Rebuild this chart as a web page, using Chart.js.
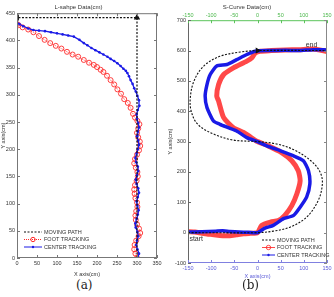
<!DOCTYPE html>
<html lang="en">
<head>
<meta charset="UTF-8">
<title>L-shape and S-curve tracking</title>
<script src="https://cdn.jsdelivr.net/npm/chart.js"></script>
<style>
  body { margin: 0; background: #fff; width: 334px; height: 297px; overflow: hidden; position: relative; }
  canvas { position: absolute; top: 0; }
  #ca { left: 0; }
  #cb { left: 167px; }
  .cap { position: absolute; font-family: "DejaVu Serif", "Liberation Serif", serif; font-size: 12px; color: #222; top: 278px; }
</style>
</head>
<body>
<canvas id="ca" width="167" height="278"></canvas>
<canvas id="cb" width="167" height="280"></canvas>
<div class="cap" style="left:76px">(a)</div>
<div class="cap" style="left:242px">(b)</div>

<script>
// ---- (a) L-shape data, [x, y] in cm ----
const lPath = [[300, 0], [300, 442], [0, 442]];
const lFoot = [
  [300,0],[296,8],[293,16],[294,24],[298,32],[304,40],[308,46],[305,54],[300,62],[297,70],
  [296,78],[298,86],[301,94],[300,102],[296,110],[294,118],[293,126],[295,134],[299,142],[302,150],
  [301,158],[297,166],[293,174],[295,182],[300,190],[305,198],[308,206],[307,214],[303,222],[300,230],
  [303,238],[306,246],[301,252],[295,258],[290,265],[284,276],[277,285],[268,292],[260,302],[251,310],
  [243,319],[234,327],[225,335],[216,342],[209,346],[200,351],[192,355],[180,359],[167,364],[153,370],
  [139,374],[125,379],[111,385],[97,390],[83,395],[69,401],[55,408],[41,415],[28,420],[14,424],
  [4,428],[0,430]
];
const lCenter = [
  [302,0],[305,8],[301,16],[298,24],[300,32],[303,40],[301,48],[297,56],[296,64],[299,72],
  [302,80],[304,88],[301,96],[299,104],[302,112],[305,120],[303,128],[299,136],[297,144],[300,152],
  [303,160],[302,168],[298,176],[296,184],[299,192],[302,200],[305,208],[303,216],[300,224],[302,232],
  [305,240],[303,248],[300,256],[299,264],[302,272],[306,280],[305,290],[301,298],[297,306],[293,312],
  [289,320],[284,327],[280,334],[276,340],[272,344],[266,348],[259,353],[251,358],[243,362],[234,366],
  [226,370],[216,374],[206,378],[196,382],[186,386],[176,391],[167,395],[156,401],[142,407],[128,409],
  [114,411],[100,413],[85,415],[70,417],[55,418],[41,419],[28,422],[16,426],[6,430],[0,433]
];
const lXTicks = [0, 50, 100, 150, 200, 250, 300, 350];
const lYTicks = [0, 50, 100, 150, 200, 250, 300, 350, 400, 450];

// ---- (b) S-curve data, [x, y] in cm ----
const sPath = [
  [-150,0],[0,0],[34,5],[70,18],[106,51],[131,106],[140,161],[135,200],[115,237],[80,272],
  [42,292],[0,300],[-52,305],[-95,325],[-129,357],[-143,400],[-145,445],[-137,500],[-116,549],[-81,581],
  [-37,595],[0,600],[150,600]
];
const sFoot = [
  [-150,3],[-135,2],[-120,-2],[-105,-5],[-90,-8],[-75,-10],[-60,-10],[-45,-7],[-30,-4],[-15,-2],
  [0,0],[9,24],[28,35],[45,40],[59,57],[74,89],[85,128],[92,171],[88,204],[74,237],
  [52,264],[23,286],[0,300],[-15,315],[-30,330],[-52,346],[-73,379],[-84,434],[-88,450],[-84,488],
  [-73,521],[-52,543],[-23,565],[-12,576],[-5,592],[6,598],[30,600],[60,602],[90,603],[120,605],[150,597]
];
const sCenter = [
  [-150,2],[-120,3],[-90,5],[-75,6],[-60,4],[-40,2],[-20,1],[0,0],[16,15],[34,24],
  [56,46],[78,57],[92,84],[106,117],[113,161],[110,204],[99,237],[78,253],[49,270],[20,286],
  [0,300],[-23,313],[-45,335],[-81,357],[-95,368],[-109,412],[-113,450],[-109,488],[-102,521],[-88,549],
  [-66,554],[-45,570],[-23,587],[-5,598],[30,600],[60,601],[90,600],[120,603],[150,602]
];
const sXTicks = [-150, -100, -50, 0, 50, 100, 150];
const sYTicks = [-100, 0, 100, 200, 300, 400, 500, 600, 700];

const FONT = "'Liberation Sans', Arial, sans-serif";
const RED = '#ff2a2a';
const BLUE = '#1a1ae6';
const pts = arr => arr.map(([x, y]) => ({ x, y }));

// box + inward ticks + legend + free texts, all in plot/scale coords
const decor = {
  id: 'decor',
  afterDatasetsDraw(chart, args, o) {
    const { ctx, chartArea: a, scales } = chart;
    const xs = scales.x, ys = scales.y;
    ctx.save();
    ctx.lineWidth = 1;
    const side = (c, x1, y1, x2, y2) => {
      ctx.strokeStyle = c; ctx.beginPath(); ctx.moveTo(x1, y1); ctx.lineTo(x2, y2); ctx.stroke();
    };
    side(o.top, a.left, a.top + 0.5, a.right, a.top + 0.5);
    side(o.bottom, a.left, a.bottom - 0.5, a.right, a.bottom - 0.5);
    side(o.left, a.left + 0.5, a.top, a.left + 0.5, a.bottom);
    side(o.right, a.right - 0.5, a.top, a.right - 0.5, a.bottom);
    o.xTicks.forEach(v => {
      const px = Math.round(xs.getPixelForValue(v)) + 0.5;
      side(o.bottom, px, a.bottom, px, a.bottom - 3);
      side(o.top, px, a.top, px, a.top + 3);
    });
    o.yTicks.forEach(v => {
      const py = Math.round(ys.getPixelForValue(v)) + 0.5;
      side(o.left, a.left, py, a.left + 3, py);
      side(o.right, a.right, py, a.right - 3, py);
    });
    // legend
    ctx.font = '5.5px ' + FONT;
    ctx.textBaseline = 'middle';
    o.legend.rows.forEach((r, i) => {
      const ds = chart.data.datasets[i];
      const y = o.legend.y + i * o.legend.gap;
      const x0 = o.legend.x, x1 = x0 + o.legend.len;
      ctx.lineWidth = i === 0 ? 1.2 : 1;
      ctx.setLineDash(ds.borderDash || []);
      side(ds.borderColor, x0, y, x1, y);
      ctx.setLineDash([]);
      if (i > 0) {
        ctx.beginPath();
        ctx.arc((x0 + x1) / 2, y, i === 1 ? 2.2 : 1.2, 0, Math.PI * 2);
        if (i === 1) { ctx.strokeStyle = ds.borderColor; ctx.stroke(); }
        else { ctx.fillStyle = ds.borderColor; ctx.fill(); }
      }
      ctx.fillStyle = '#333';
      ctx.textAlign = 'left';
      ctx.fillText(r, x1 + 2, y);
    });
    (o.texts || []).forEach(t => {
      ctx.font = t.size + 'px ' + FONT;
      ctx.fillStyle = '#333';
      ctx.textAlign = 'left';
      ctx.fillText(t.text, xs.getPixelForValue(t.x), ys.getPixelForValue(t.y));
    });
    ctx.restore();
  }
};

const tickFont = () => ({ family: FONT, size: 5.5 });
const noGrid = { display: false, drawTicks: false };

// ---------- (a) ----------
new Chart(document.getElementById('ca'), {
  type: 'line',
  data: {
    datasets: [
      { label: 'MOVING PATH', data: pts(lPath), borderColor: '#111', borderWidth: 1.2, borderDash: [2, 1.5],
        pointStyle: 'triangle', pointRadius: [0, 2.5, 2.5], pointRotation: [0, 0, -90],
        pointBackgroundColor: '#111', pointBorderColor: '#111', order: 0 },
      { label: 'FOOT TRACKING', data: pts(lFoot), borderColor: RED, borderWidth: 0.8, borderDash: [1, 1],
        pointRadius: 2.5, pointBorderWidth: 0.9, pointBorderColor: RED, pointBackgroundColor: 'rgba(255,255,255,0)', order: 2 },
      { label: 'CENTER TRACKING', data: pts(lCenter), borderColor: BLUE, borderWidth: 1.3,
        pointRadius: 1.3, pointBorderWidth: 0, pointBackgroundColor: BLUE, order: 1 }
    ]
  },
  options: {
    responsive: false,
    animation: false,
    layout: { padding: { left: 0, right: 10, top: 0, bottom: 0 } },
    plugins: {
      legend: { display: false },
      tooltip: { enabled: false },
      title: { display: true, text: 'L-sahpe Data(cm)', color: '#333', font: { family: FONT, size: 6, weight: 'normal' },
        padding: { top: 4, bottom: 2 } },
      decor: {
        top: '#777', bottom: '#777', left: '#777', right: '#777',
        xTicks: lXTicks, yTicks: lYTicks,
        legend: { x: 24, y: 232, gap: 7.5, len: 18, rows: ['MOVING PATH', 'FOOT TRACKING', 'CENTER TRACKING'] }
      }
    },
    scales: {
      x: { type: 'linear', min: 0, max: 350,
        afterBuildTicks: s => { s.ticks = lXTicks.map(v => ({ value: v })); },
        afterFit: s => { s.height = 20; },
        grid: noGrid, border: { display: false },
        ticks: { font: tickFont(), color: '#333', padding: 2, maxRotation: 0 },
        title: { display: true, text: 'X axis(cm)', color: '#333', font: { family: FONT, size: 5.5 }, padding: { top: 1, bottom: 0 } } },
      y: { type: 'linear', min: 0, max: 450,
        afterBuildTicks: s => { s.ticks = lYTicks.map(v => ({ value: v })); },
        afterFit: s => { s.width = 17; },
        grid: noGrid, border: { display: false },
        ticks: { font: tickFont(), color: '#333', padding: 2 },
        title: { display: true, text: 'Y axis(cm)', color: '#333', font: { family: FONT, size: 5.5 }, padding: 0 } }
    }
  },
  plugins: [decor]
});

// ---------- (b) ----------
new Chart(document.getElementById('cb'), {
  type: 'line',
  data: {
    datasets: [
      { label: 'MOVING PATH', data: pts(sPath), borderColor: '#111', borderWidth: 1.1, borderDash: [2, 1.5],
        pointStyle: 'triangle', pointRadius: sPath.map((p, i) => i === 21 ? 2.5 : 0), pointRotation: 90,
        pointBackgroundColor: '#111', pointBorderColor: '#111', tension: 0.35, order: 0 },
      { label: 'FOOT TRACKING', data: pts(sFoot), borderColor: 'rgba(255,40,40,0.85)', borderWidth: 5,
        pointRadius: 0, tension: 0.2, order: 2 },
      { label: 'CENTER TRACKING', data: pts(sCenter), borderColor: BLUE, borderWidth: 3.5,
        pointRadius: 0, tension: 0.2, order: 1 }
    ]
  },
  options: {
    responsive: false,
    animation: false,
    layout: { padding: { left: 0, right: 7, top: 0, bottom: 0 } },
    plugins: {
      legend: { display: false },
      tooltip: { enabled: false },
      title: { display: true, text: 'S-Curve Data(cm)', color: '#333', font: { family: FONT, size: 6, weight: 'normal' },
        padding: { top: 4, bottom: 1 } },
      decor: {
        top: '#5cc45c', bottom: '#8080e0', left: '#666', right: '#888',
        xTicks: sXTicks, yTicks: sYTicks,
        legend: { x: 95, y: 240, gap: 7.5, len: 13, rows: ['MOVING PATH', 'FOOT TRACKING', 'CENTER TRACKING'] },
        texts: [{ text: 'end', x: 104, y: 618, size: 7 }, { text: 'start', x: -147, y: -22, size: 7 }]
      }
    },
    scales: {
      x: { type: 'linear', min: -150, max: 150, position: 'bottom',
        afterBuildTicks: s => { s.ticks = sXTicks.map(v => ({ value: v })); },
        afterFit: s => { s.height = 17; },
        grid: noGrid, border: { display: false },
        ticks: { font: tickFont(), color: '#5a5ad8', padding: 2, maxRotation: 0 },
        title: { display: true, text: 'X axis(cm)', color: '#5a5ad8', font: { family: FONT, size: 5.5 }, padding: 0 } },
      x2: { type: 'linear', min: -150, max: 150, position: 'top',
        afterBuildTicks: s => { s.ticks = sXTicks.map(v => ({ value: v })); },
        afterFit: s => { s.height = 8; },
        grid: noGrid, border: { display: false },
        ticks: { font: tickFont(), color: '#4cb84c', padding: 1, maxRotation: 0 } },
      y: { type: 'linear', min: -100, max: 700,
        afterBuildTicks: s => { s.ticks = sYTicks.map(v => ({ value: v })); },
        afterFit: s => { s.width = 21; },
        grid: noGrid, border: { display: false },
        ticks: { font: tickFont(), color: '#333', padding: 2 },
        title: { display: true, text: 'Y axis(cm)', color: '#333', font: { family: FONT, size: 5.5 }, padding: 0 } }
    }
  },
  plugins: [decor]
});
</script>
</body>
</html>
